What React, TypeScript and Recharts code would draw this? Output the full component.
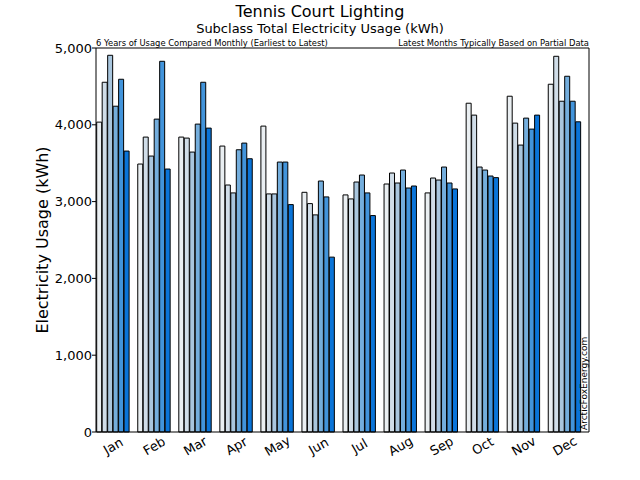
import { BarChart, Bar, XAxis, YAxis } from "recharts";

const months = ["Jan", "Feb", "Mar", "Apr", "May", "Jun", "Jul", "Aug", "Sep", "Oct", "Nov", "Dec"];

// six years, earliest to latest
const year1 = [4035, 3489, 3840, 3723, 3983, 3121, 3087, 3229, 3113, 4281, 4372, 4528];
const year2 = [4554, 3840, 3827, 3216, 3100, 2974, 3035, 3372, 3307, 4126, 4022, 4892];
const year3 = [4905, 3593, 3645, 3113, 3100, 2827, 3255, 3242, 3281, 3450, 3736, 4307];
const year4 = [4242, 4074, 4009, 3675, 3515, 3268, 3346, 3411, 3450, 3411, 4087, 4632];
const year5 = [4593, 4827, 4554, 3762, 3515, 3061, 3113, 3177, 3242, 3333, 3944, 4307];
const year6 = [3658, 3424, 3957, 3558, 2961, 2277, 2818, 3203, 3165, 3312, 4126, 4039];

const yTicks = [0, 1000, 2000, 3000, 4000, 5000];

const seriesKeys = ["y1", "y2", "y3", "y4", "y5", "y6"];
const colors = ["#eaeff2", "#d0dde8", "#a9c6de", "#74aedd", "#4294db", "#0a74d8"];

const data = months.map((m, i) => ({
  month: m,
  y1: year1[i],
  y2: year2[i],
  y3: year3[i],
  y4: year4[i],
  y5: year5[i],
  y6: year6[i],
}));

const font = "DejaVu Sans";

function MonthTick({ x, y, payload }: any) {
  return (
    <g transform={`translate(${x - 1},${y + 14}) rotate(-30)`}>
      <text x={0} y={0} textAnchor="middle" dominantBaseline="central" fontSize={13} fontFamily={font} fill="#000">
        {payload.value}
      </text>
    </g>
  );
}

export default function App() {
  return (
    <div style={{ position: "absolute", left: 0, top: 0, width: 640, height: 480, background: "#fff" }}>
      <BarChart
        width={640}
        height={480}
        data={data}
        margin={{ top: 47, right: 50, bottom: 8, left: 0 }}
        barGap={0.48}
        barCategoryGap={3}
      >
        <XAxis
          dataKey="month"
          height={40}
          tick={<MonthTick />}
          tickLine={false}
          tickSize={0}
          tickMargin={0}
          interval={0}
          padding={{ left: -2.3, right: 2.7 }}
          axisLine={{ stroke: "#000" }}
        />
        <XAxis
          xAxisId="top"
          orientation="top"
          dataKey="month"
          height={1}
          tick={false}
          tickLine={false}
          axisLine={{ stroke: "#000" }}
        />
        <YAxis
          width={96}
          domain={[0, 5000]}
          ticks={yTicks}
          tickFormatter={(v) => Number(v).toLocaleString("en-US")}
          tick={{ fontSize: 13, fill: "#000", fontFamily: font }}
          tickSize={4}
          tickMargin={0}
          axisLine={{ stroke: "#000" }}
          tickLine={{ stroke: "#000" }}
        />
        <YAxis
          yAxisId="right"
          orientation="right"
          width={1}
          domain={[0, 5000]}
          ticks={yTicks}
          tick={false}
          tickSize={-4}
          axisLine={{ stroke: "#000" }}
          tickLine={{ stroke: "#000" }}
        />
        {seriesKeys.map((k, i) => (
          <Bar key={k} dataKey={k} fill={colors[i]} stroke="#000" strokeWidth={1} isAnimationActive={false} />
        ))}
      </BarChart>
      <svg
        width={640}
        height={480}
        style={{ position: "absolute", left: 0, top: 0, pointerEvents: "none" }}
        fontFamily={font}
      >
        <text x={320} y={17} textAnchor="middle" fontSize={16} fill="#000">Tennis Court Lighting</text>
        <text x={320} y={33} textAnchor="middle" fontSize={13} fill="#000">Subclass Total Electricity Usage (kWh)</text>
        <text x={96} y={46} fontSize={8.4} fill="#000">6 Years of Usage Compared Monthly (Earliest to Latest)</text>
        <text x={589} y={46} textAnchor="end" fontSize={8.4} fill="#000">Latest Months Typically Based on Partial Data</text>
        <text
          transform="translate(48,240) rotate(-90)"
          textAnchor="middle"
          fontSize={16}
          fill="#000"
        >
          Electricity Usage (kWh)
        </text>
        <text transform="translate(587,430) rotate(-90)" fontSize={9} fill="#000">ArcticFoxEnergy.com</text>
      </svg>
    </div>
  );
}
